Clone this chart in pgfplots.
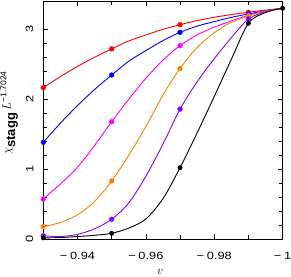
\documentclass[border=0pt]{standalone}
\usepackage{pgfplots}
\pgfplotsset{compat=1.18}
\usepackage{fontspec}
\setmainfont{Liberation Sans}
\definecolor{corange}{RGB}{255,128,0}
\definecolor{cpurple}{RGB}{136,0,255}
\definecolor{cmag}{RGB}{255,0,255}
\newcommand{\mn}{−\hspace{2.2pt}}
\begin{document}
\begin{tikzpicture}
\begin{axis}[
  scale only axis,
  width=239.3pt, height=238.3pt,
  x dir=reverse,
  xmin=-1, xmax=-0.93,
  ymin=0, ymax=3.4043,
  xtick={-0.94,-0.96,-0.98,-1},
  xticklabels={\mn0.94,\mn0.96,\mn0.98,\mn1},
  minor x tick num=1,
  ytick={0,1,2,3},
  yticklabels={0,1,2,3},
  minor y tick num=4,
  tick align=inside,
  major tick length=5pt,
  minor tick length=4pt,
  tick style={black, line width=0.6pt},
  axis line style={line width=0.8pt},
  xticklabel style={font=\fontsize{10.5}{12}\selectfont, xscale=1.22, anchor=north, yshift=-9.5pt},
  yticklabel style={font=\fontsize{10.5}{12}\selectfont, rotate=90, xscale=1.22, anchor=south, yshift=6.5pt},
  xlabel={$v$},
  xlabel style={at={(axis description cs:0.488,0)}, anchor=center, yshift=-32.5pt, font=\fontsize{13}{15}\selectfont},
  ylabel={$\chi_{\textbf{stagg}}\,L^{\mbox{\fontsize{8.5}{10}\selectfont −1.7024}}$},
  ylabel style={at={(axis description cs:-0.143,0.53)}, anchor=center, font=\fontsize{13}{15}\selectfont},
  clip=true,
]
% fitted curves
\addplot[red, line width=0.9pt, smooth, tension=0.5] coordinates {(-0.93,2.166)(-0.935,2.324)(-0.94,2.469)(-0.945,2.601)(-0.95,2.72)(-0.955,2.833)(-0.96,2.919)(-0.965,2.999)(-0.97,3.066)(-0.975,3.125)(-0.98,3.172)(-0.985,3.21)(-0.99,3.243)(-0.995,3.274)(-1,3.30)};
\addplot[blue, line width=0.9pt, smooth, tension=0.5] coordinates {(-0.93,1.386)(-0.935,1.659)(-0.94,1.910)(-0.945,2.140)(-0.95,2.347)(-0.955,2.543)(-0.96,2.696)(-0.965,2.838)(-0.97,2.957)(-0.975,3.045)(-0.98,3.11)(-0.985,3.17)(-0.99,3.22)(-0.995,3.265)(-1,3.30)};
\addplot[cmag, line width=0.9pt, smooth, tension=0.5] coordinates {(-0.93,0.576)(-0.935,0.79)(-0.94,1.03)(-0.945,1.34)(-0.95,1.68)(-0.955,2.00)(-0.96,2.30)(-0.965,2.56)(-0.97,2.766)(-0.975,2.92)(-0.98,3.03)(-0.985,3.12)(-0.99,3.20)(-0.995,3.26)(-1,3.30)};
\addplot[corange, line width=0.9pt, smooth, tension=0.5] coordinates {(-0.93,0.18)(-0.935,0.24)(-0.94,0.35)(-0.945,0.54)(-0.95,0.833)(-0.955,1.20)(-0.96,1.61)(-0.965,2.06)(-0.97,2.44)(-0.975,2.74)(-0.98,2.95)(-0.985,3.10)(-0.99,3.19)(-0.995,3.26)(-1,3.30)};
\addplot[cpurple, line width=0.9pt, smooth, tension=0.5] coordinates {(-0.93,0.05)(-0.935,0.04)(-0.94,0.07)(-0.945,0.15)(-0.95,0.286)(-0.955,0.52)(-0.96,0.90)(-0.965,1.36)(-0.97,1.86)(-0.975,2.25)(-0.98,2.58)(-0.985,2.88)(-0.99,3.147)(-0.995,3.25)(-1,3.30)};
\addplot[black, line width=0.9pt, smooth, tension=0.5] coordinates {(-0.93,0.02)(-0.935,0.025)(-0.94,0.04)(-0.945,0.057)(-0.95,0.086)(-0.955,0.16)(-0.96,0.29)(-0.965,0.58)(-0.97,1.023)(-0.975,1.52)(-0.98,2.04)(-0.985,2.57)(-0.99,3.086)(-0.995,3.24)(-1,3.30)};
% data points
\addplot[only marks, mark=*, mark size=2.4pt, red] coordinates {(-0.93,2.166)(-0.95,2.72)(-0.97,3.066)(-0.99,3.243)};
\addplot[only marks, mark=*, mark size=2.4pt, blue] coordinates {(-0.93,1.386)(-0.95,2.347)(-0.97,2.957)(-0.99,3.22)};
\addplot[only marks, mark=*, mark size=2.4pt, cmag] coordinates {(-0.93,0.576)(-0.95,1.68)(-0.97,2.766)(-0.99,3.20)};
\addplot[only marks, mark=*, mark size=2.4pt, corange] coordinates {(-0.93,0.18)(-0.95,0.833)(-0.97,2.44)(-0.99,3.19)};
\addplot[only marks, mark=*, mark size=2.4pt, cpurple] coordinates {(-0.93,0.05)(-0.95,0.286)(-0.97,1.86)(-0.99,3.147)};
\addplot[only marks, mark=*, mark size=2.2pt, black] coordinates {(-0.93,0.02)(-0.95,0.086)(-0.97,1.023)(-0.99,3.086)(-1,3.30)};
\end{axis}
\pgfresetboundingbox
\path[use as bounding box] (-43.3pt,-36.7pt) rectangle (247.7pt,239.3pt);
\end{tikzpicture}
\end{document}
